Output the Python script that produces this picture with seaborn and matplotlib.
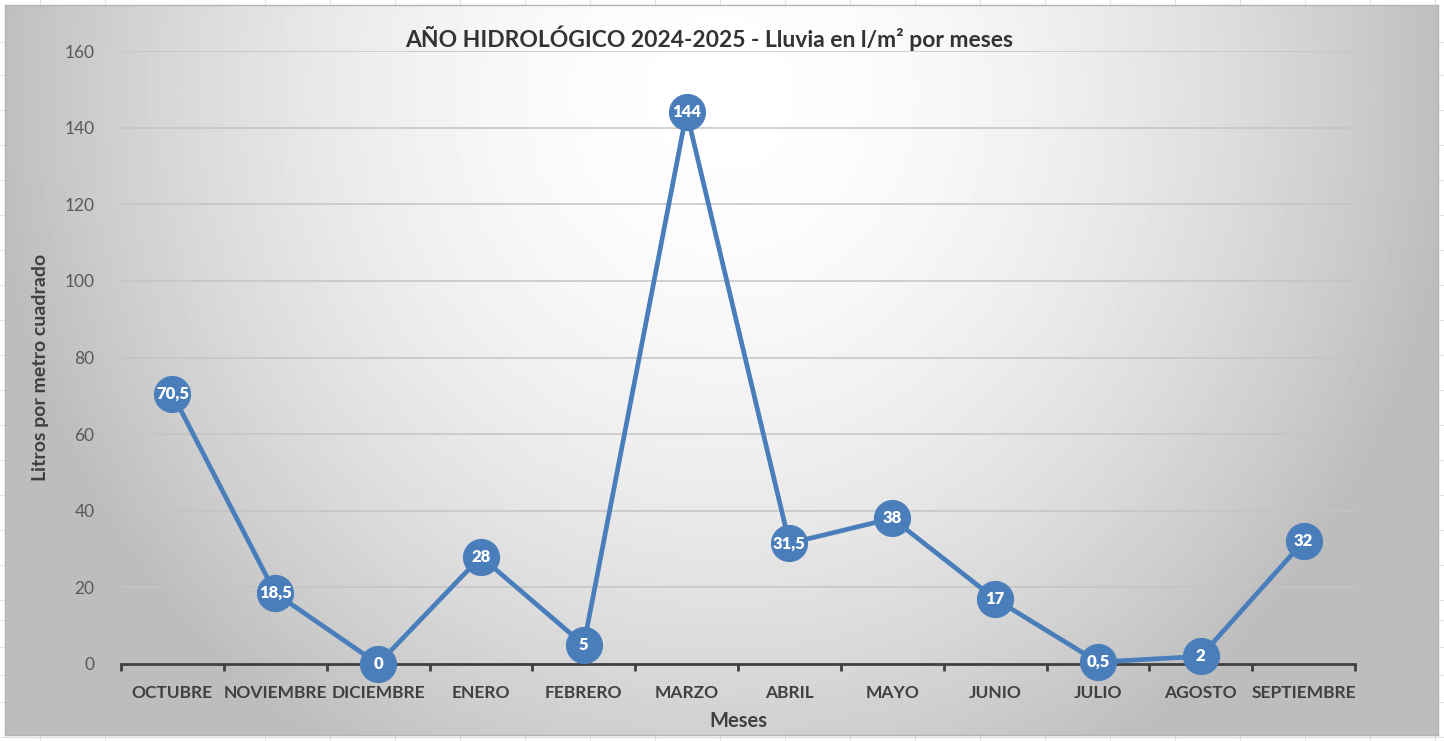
import numpy as np
import pandas as pd
import matplotlib
matplotlib.use('Agg')
import matplotlib.pyplot as plt
import seaborn as sns

# data
meses = ['OCTUBRE', 'NOVIEMBRE', 'DICIEMBRE', 'ENERO', 'FEBRERO', 'MARZO',
         'ABRIL', 'MAYO', 'JUNIO', 'JULIO', 'AGOSTO', 'SEPTIEMBRE']
lluvia = [70.5, 18.5, 0, 28, 5, 144, 31.5, 38, 17, 0.5, 2, 32]
y_ticks = [0, 20, 40, 60, 80, 100, 120, 140, 160]

df = pd.DataFrame({'Meses': meses, 'Lluvia': lluvia})

sns.set_theme(style='white')
plt.rcParams['font.family'] = ['Lato', 'DejaVu Sans']

W, H = 1444, 741
fig = plt.figure(figsize=(W / 100, H / 100), dpi=100)
fig.patch.set_facecolor('white')

# spreadsheet cell lines behind the chart
bg = fig.add_axes([0, 0, 1, 1], zorder=-3)
bg.set_xlim(0, W)
bg.set_ylim(H, 0)
bg.axis('off')
for xc in [40, 105, 265, 330, 395, 460, 525, 590, 655, 720, 785, 850, 915, 980,
           1045, 1110, 1175, 1240, 1305, 1370, 1435]:
    bg.axvline(xc, color='#e1e1e1', lw=0.8)
for yc in [42, 75, 110, 145, 180, 215, 250, 285, 320, 355, 390, 425, 460, 495,
           530, 565, 600, 620, 647, 675, 702, 737]:
    bg.axhline(yc, color='#e1e1e1', lw=0.8)

# chart area with radial gradient
x0, y0, x1, y1 = 5, 5, 1438, 735
ga = fig.add_axes([x0 / W, 1 - y1 / H, (x1 - x0) / W, (y1 - y0) / H], zorder=-2)
gx, gy = np.meshgrid(np.linspace(0, 1, 400), np.linspace(1, 0, 200))
r = np.sqrt(((gx - 0.5) / 0.5) ** 2 + ((gy - 0.88) / 1.05) ** 2)
val = np.clip(1 - 0.25 * r ** 1.8, 0.74, 1)
ga.imshow(val, cmap='gray', vmin=0, vmax=1, aspect='auto', extent=[0, 1, 0, 1])
ga.set_xticks([])
ga.set_yticks([])
for s in ga.spines.values():
    s.set_color('#b4b4b4')
    s.set_linewidth(1)

# plot area
ax = fig.add_axes([121 / W, 1 - 664 / H, (1355 - 121) / W, (664 - 51) / H])
ax.patch.set_alpha(0)
blue = '#4a7ebb'
sns.lineplot(data=df, x='Meses', y='Lluvia', ax=ax, color=blue, lw=3.4,
             marker='o', markersize=26, markeredgecolor=blue, sort=False,
             clip_on=False, zorder=5)
for i, v in enumerate(lluvia):
    txt = ('%g' % v).replace('.', ',')
    ax.text(i, v, txt, color='white', ha='center', va='center',
            fontsize=12, fontweight='heavy', zorder=6)

ax.set_xlim(-0.5, len(meses) - 0.5)
ax.set_ylim(0, 160)
ax.set_yticks(y_ticks)
ax.yaxis.grid(True, color='#c4c4c4', lw=1.1)
ax.set_axisbelow(True)
for s in ['top', 'right', 'left']:
    ax.spines[s].set_visible(False)
ax.spines['bottom'].set_color('#404040')
ax.spines['bottom'].set_linewidth(2)

ax.set_xticks(range(len(meses)))
ax.set_xticklabels(meses, fontsize=12.5, fontweight='bold', color='#404040')
ax.set_xticks(np.arange(-0.5, len(meses)), minor=True)
ax.tick_params(axis='x', which='major', bottom=False, length=0, pad=15)
ax.tick_params(axis='x', which='minor', bottom=True, length=5, width=2,
               color='#404040', direction='out')
ax.tick_params(axis='y', length=0, pad=19, labelsize=12.5, labelcolor='#595959')

ax.set_xlabel('Meses', fontsize=14.5, fontweight='bold', color='#404040', labelpad=7)
ax.set_ylabel('Litros por metro cuadrado', fontsize=14, fontweight='bold',
              color='#404040')
ax.yaxis.set_label_coords((49 - 121) / 1234, (664 - 367) / 613)
fig.text(709 / W, 1 - 38 / H, 'AÑO HIDROLÓGICO 2024-2025 - Lluvia en l/m² por meses',
         ha='center', va='center', fontsize=16.5, fontweight='bold', color='#333333')

fig.savefig('out.png', dpi=100)
